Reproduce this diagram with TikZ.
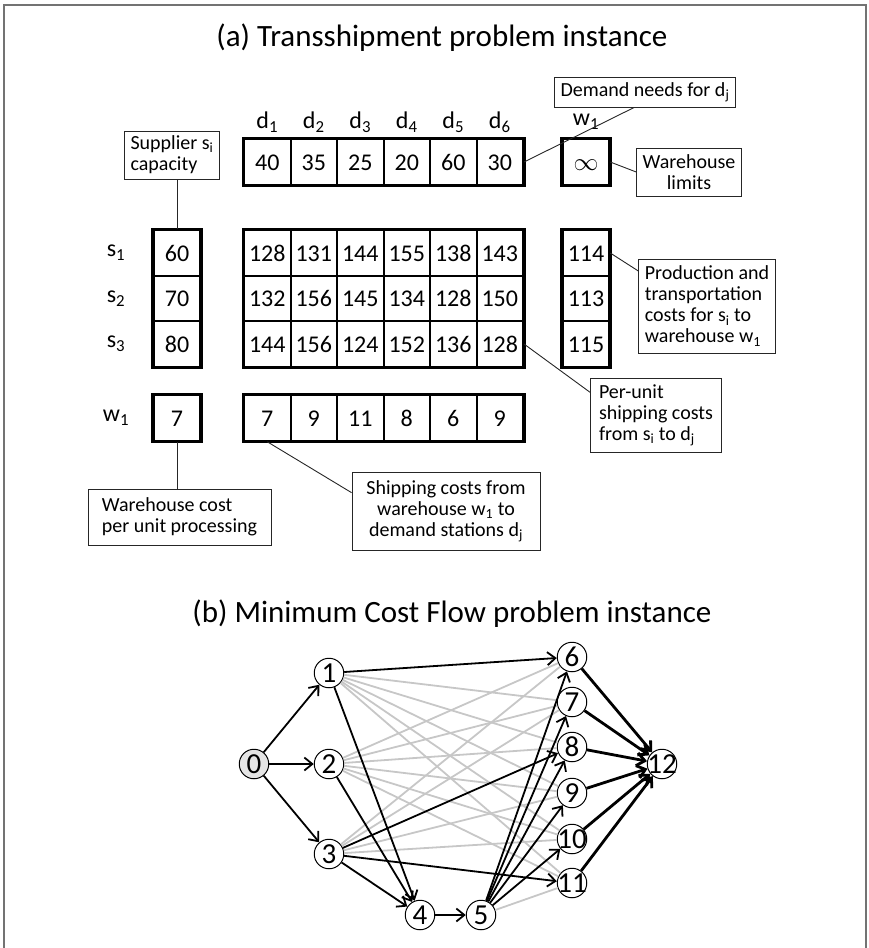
\documentclass[tikz,border=0pt]{standalone}
\usepackage{fontspec}
\setmainfont{Carlito}[Numbers=Lining]
\usetikzlibrary{arrows.meta}
\begin{document}
\begin{tikzpicture}[x=1pt,y=-1pt,
 cell/.style={draw, line width=2, minimum width=46.5, minimum height=45.5, inner sep=0, text height=16, text depth=0, font=\fontsize{24}{24}\selectfont},
 lab/.style={font=\fontsize{24}{24}\selectfont, inner sep=0},
 callout/.style={draw=black!85, line width=0.9, font=\fontsize{20}{21}\selectfont, inner xsep=6, inner ysep=3},
 conn/.style={line width=0.9, black!85},
 titlestyle/.style={font=\fontsize{31}{32}\selectfont, inner sep=0},
 gnode/.style={circle, draw, line width=1, minimum size=29.5, inner sep=0, font=\fontsize{29}{29}\selectfont, fill=white},
 garr/.style={line width=1.8, -{Straight Barb[length=8pt,width=13pt]}},
 gthick/.style={line width=2.8, -{Straight Barb[length=8pt,width=13pt]}},
 gedge/.style={line width=1.8, black!22},
 outer/.style={line width=3}
]
\useasboundingbox (0,0) rectangle (868,948);
\draw[line width=2, black!55] (3.5,948) -- (3.5,4.5) -- (866,4.5) -- (866,948);

% titles
\node[titlestyle] (ta) at (442,38) {(a) Transshipment problem instance};
\node[titlestyle] (tb) at (452,614) {(b) Minimum Cost Flow problem instance};

% demand row
\foreach \v [count=\i] in {40,35,25,20,60,30}
  \node[cell] (dd\i) at ({244+46.5*(\i-0.5)},162) {\v};
\foreach \i in {1,...,6}
  \node[lab] (dl\i) at ({244+46.5*(\i-0.5)},122) {d\textsubscript{\i}};
\node[cell] (winf) at (586,162) {$\infty$};
\node[lab] (wl) at (586,122) {w\textsubscript{1}};

% supplier rows
\foreach \v [count=\i] in {60,70,80} {
  \node[cell] (sc\i) at (177,{253+45.5*(\i-1)}) {\v};
  \node[lab] (sl\i) at (116,{253+45.5*(\i-1)}) {s\textsubscript{\i}};
}
\foreach \v [count=\i] in {128,131,144,155,138,143}
  \node[cell] (ca\i) at ({244+46.5*(\i-0.5)},253) {\v};
\foreach \v [count=\i] in {132,156,145,134,128,150}
  \node[cell] (cb\i) at ({244+46.5*(\i-0.5)},298.5) {\v};
\foreach \v [count=\i] in {144,156,124,152,136,128}
  \node[cell] (cc\i) at ({244+46.5*(\i-0.5)},344) {\v};
\foreach \v [count=\i] in {114,113,115}
  \node[cell] (wc\i) at (586,{253+45.5*(\i-1)}) {\v};

% warehouse row
\node[lab] (wrl) at (116,418) {w\textsubscript{1}};
\node[cell] (wcost) at (177,418) {7};
\foreach \v [count=\i] in {7,9,11,8,6,9}
  \node[cell] (wr\i) at ({244+46.5*(\i-0.5)},418) {\v};

% outer frames
\draw[outer] (dd1.north west) rectangle (dd6.south east);
\draw[outer] (winf.north west) rectangle (winf.south east);
\draw[outer] (sc1.north west) rectangle (sc3.south east);
\draw[outer] (ca1.north west) rectangle (cc6.south east);
\draw[outer] (wc1.north west) rectangle (wc3.south east);
\draw[outer] (wcost.north west) rectangle (wcost.south east);
\draw[outer] (wr1.north west) rectangle (wr6.south east);

% callouts
\node[callout, minimum height=48, align=left] (sup) at (172,155) {Supplier s\textsubscript{i}\\capacity};
\node[callout, minimum height=30, align=center] (dem) at (645,92) {Demand needs for d\textsubscript{j}};
\node[callout, minimum width=103, minimum height=48, align=center] (lim) at (689,172) {Warehouse\\limits};
\node[callout, minimum height=94, align=left] (prod) at (707,306) {Production and\\transportation\\costs for s\textsubscript{i} to\\warehouse w\textsubscript{1}};
\node[callout, minimum width=131, minimum height=74, align=left] (per) at (656,415) {Per-unit\\shipping costs\\from s\textsubscript{i} to d\textsubscript{j}};
\node[callout, minimum width=183, minimum height=56, align=left] (whc) at (179.5,517) {Warehouse cost\\per unit processing};
\node[callout, minimum width=188, minimum height=78, align=center] (ship) at (446,511) {Shipping costs from\\warehouse w\textsubscript{1} to\\demand stations d\textsubscript{j}};

\draw[conn] (sc1.north) -- (sc1.north |- sup.south);
\draw[conn] (dd6.east) -- (dem.235);
\draw[conn] (winf.east) -- (lim.west);
\draw[conn] (wc1.east) -- (prod.153);
\draw[conn] (cc6.east) -- (per.161);
\draw[conn] (wcost.south) -- (wcost.south |- whc.north);
\draw[conn] (wr1.south) -- (ship.169);

% graph
\node[gnode, fill=black!10] (n0) at (254,764) {\makebox[0pt]{0}};
\node[gnode] (n1) at (329,673) {\makebox[0pt]{1}};
\node[gnode] (n2) at (329,764) {\makebox[0pt]{2}};
\node[gnode] (n3) at (329,854) {\makebox[0pt]{3}};
\node[gnode] (n4) at (420,915) {\makebox[0pt]{4}};
\node[gnode] (n5) at (481,915) {\makebox[0pt]{5}};
\node[gnode] (n6) at (572,657) {\makebox[0pt]{6}};
\node[gnode] (n7) at (572,702) {\makebox[0pt]{7}};
\node[gnode] (n8) at (572,747) {\makebox[0pt]{8}};
\node[gnode] (n9) at (572,793) {\makebox[0pt]{9}};
\node[gnode] (n10) at (572,839) {\makebox[0pt]{10}};
\node[gnode] (n11) at (572,883) {\makebox[0pt]{11}};
\node[gnode] (n12) at (662,764) {\makebox[0pt]{12}};

\foreach \a/\b in {1/7,1/8,1/9,1/10,1/11,2/6,2/7,2/8,2/9,2/10,2/11,3/6,3/7,3/9,3/10,5/11}
  \draw[gedge] (n\a) -- (n\b);
\foreach \a/\b in {0/1,0/2,0/3,1/6,1/4,2/4,3/4,3/8,3/11,4/5,5/6,5/7,5/8,5/9,5/10}
  \draw[garr] (n\a) -- (n\b);
\foreach \a in {6,...,11}
  \draw[gthick] (n\a) -- (n12);
\end{tikzpicture}
\end{document}
